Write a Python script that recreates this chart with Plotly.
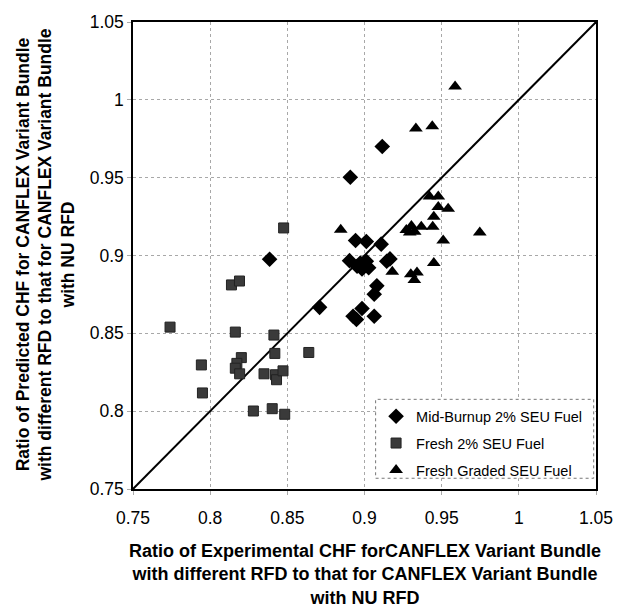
import plotly.graph_objects as go

# Mid-Burnup 2% SEU Fuel (diamonds)
mid_x = [0.9115, 0.8908, 0.8385, 0.8942, 0.9012, 0.9108, 0.8903, 0.8952, 0.8984, 0.9012,
         0.9027, 0.8973, 0.9144, 0.9165, 0.9080, 0.9063, 0.8709, 0.8984, 0.8926, 0.8948, 0.9063]
mid_y = [0.9700, 0.9503, 0.8976, 0.9096, 0.9090, 0.9073, 0.8967, 0.8931, 0.8914, 0.8963,
         0.8921, 0.8952, 0.8963, 0.8978, 0.8805, 0.8751, 0.8667, 0.8660, 0.8610, 0.8589, 0.8610]

# Fresh 2% SEU Fuel (squares)
fresh_x = [0.8476, 0.8138, 0.8190, 0.7740, 0.8163, 0.8413, 0.8639, 0.7943, 0.7950, 0.8202,
           0.8173, 0.8163, 0.8191, 0.8419, 0.8349, 0.8423, 0.8430, 0.8472, 0.8280, 0.8402, 0.8483]
fresh_y = [0.9177, 0.8811, 0.8836, 0.8540, 0.8508, 0.8489, 0.8377, 0.8297, 0.8117, 0.8344,
           0.8307, 0.8276, 0.8240, 0.8371, 0.8240, 0.8234, 0.8202, 0.8259, 0.8001, 0.8016, 0.7980]

# Fresh Graded SEU Fuel (triangles)
graded_x = [0.9587, 0.9333, 0.9439, 0.9421, 0.9478, 0.9478, 0.9542, 0.9449, 0.9442, 0.8846,
            0.9271, 0.9304, 0.9325, 0.9368, 0.9293, 0.9510, 0.9747, 0.9449, 0.9180, 0.9300,
            0.9340, 0.9323]
graded_y = [1.0085, 0.9816, 0.9831, 0.9379, 0.9379, 0.9312, 0.9301, 0.9249, 0.9185, 0.9166,
            0.9164, 0.9189, 0.9153, 0.9185, 0.9147, 0.9096, 0.9147, 0.8952, 0.8895, 0.8880,
            0.8890, 0.8842]

# 1:1 line
line_vals = [0.75, 1.05]

tick_vals = [0.75, 0.8, 0.85, 0.9, 0.95, 1.0, 1.05]
tick_text = ["0.75", "0.8", "0.85", "0.9", "0.95", "1", "1.05"]

FONT = "Liberation Sans, Arial, sans-serif"

fig = go.Figure()
fig.add_trace(go.Scatter(x=line_vals, y=line_vals, mode="lines",
                         line=dict(color="black", width=2), showlegend=False, hoverinfo="skip"))
fig.add_trace(go.Scatter(x=mid_x, y=mid_y, mode="markers", name="Mid-Burnup 2% SEU Fuel",
                         legendgroup="a",
                         marker=dict(symbol="diamond", size=12, color="black")))
fig.add_trace(go.Scatter(x=fresh_x, y=fresh_y, mode="markers", name="Fresh 2% SEU Fuel",
                         legendgroup="b",
                         marker=dict(symbol="square", size=10, color="#3a3a3a",
                                     line=dict(color="#222", width=1))))
fig.add_trace(go.Scatter(x=graded_x, y=graded_y, mode="markers", name="Fresh Graded SEU Fuel",
                         legendgroup="c",
                         marker=dict(symbol="triangle-up", size=12, color="black")))

axis_common = dict(
    range=[0.75, 1.05], tickvals=tick_vals, ticktext=tick_text,
    showgrid=True, gridcolor="#a8a8a8", griddash="dot", gridwidth=1,
    showline=True, linecolor="black", linewidth=1.5, mirror=True,
    zeroline=False, ticks="outside", ticklen=4, tickcolor="#aaa",
    tickfont=dict(family=FONT, size=17.5, color="black"),
)

fig.update_layout(
    width=625, height=616,
    margin=dict(l=133, r=23, t=16, b=127),
    paper_bgcolor="white", plot_bgcolor="white",
    xaxis=dict(**axis_common, ticklabelstandoff=8),
    yaxis=dict(**axis_common),
    legend=dict(x=0.525, y=0.19, xanchor="left", yanchor="top",
                bgcolor="rgba(0,0,0,0)", borderwidth=0,
                font=dict(family=FONT, size=14.5, color="black"),
                tracegroupgap=5, itemwidth=30),
    shapes=[dict(type="rect", xref="paper", yref="paper",
                 x0=0.524, x1=0.995, y0=0.023, y1=0.192,
                 line=dict(color="#777", width=1, dash="dot"),
                 fillcolor="white", layer="above")],
    annotations=[
        dict(text="<b>Ratio of Experimental CHF forCANFLEX Variant Bundle<br>with different RFD to that for CANFLEX Variant Bundle<br>with NU RFD</b>",
             xref="paper", yref="paper", x=0.5, y=-0.108, xanchor="center", yanchor="top",
             showarrow=False, font=dict(family=FONT, size=18, color="black"), align="center"),
        dict(text="<b>Ratio of Predicted CHF for CANFLEX Variant Bundle<br>with different RFD to that for CANFLEX Variant Bundle<br>with NU RFD</b>",
             xref="paper", yref="paper", x=-0.19, y=0.5, xanchor="center", yanchor="middle",
             textangle=-90, showarrow=False, font=dict(family=FONT, size=17.5, color="black"), align="center"),
    ],
)

fig.write_html("out.html")
